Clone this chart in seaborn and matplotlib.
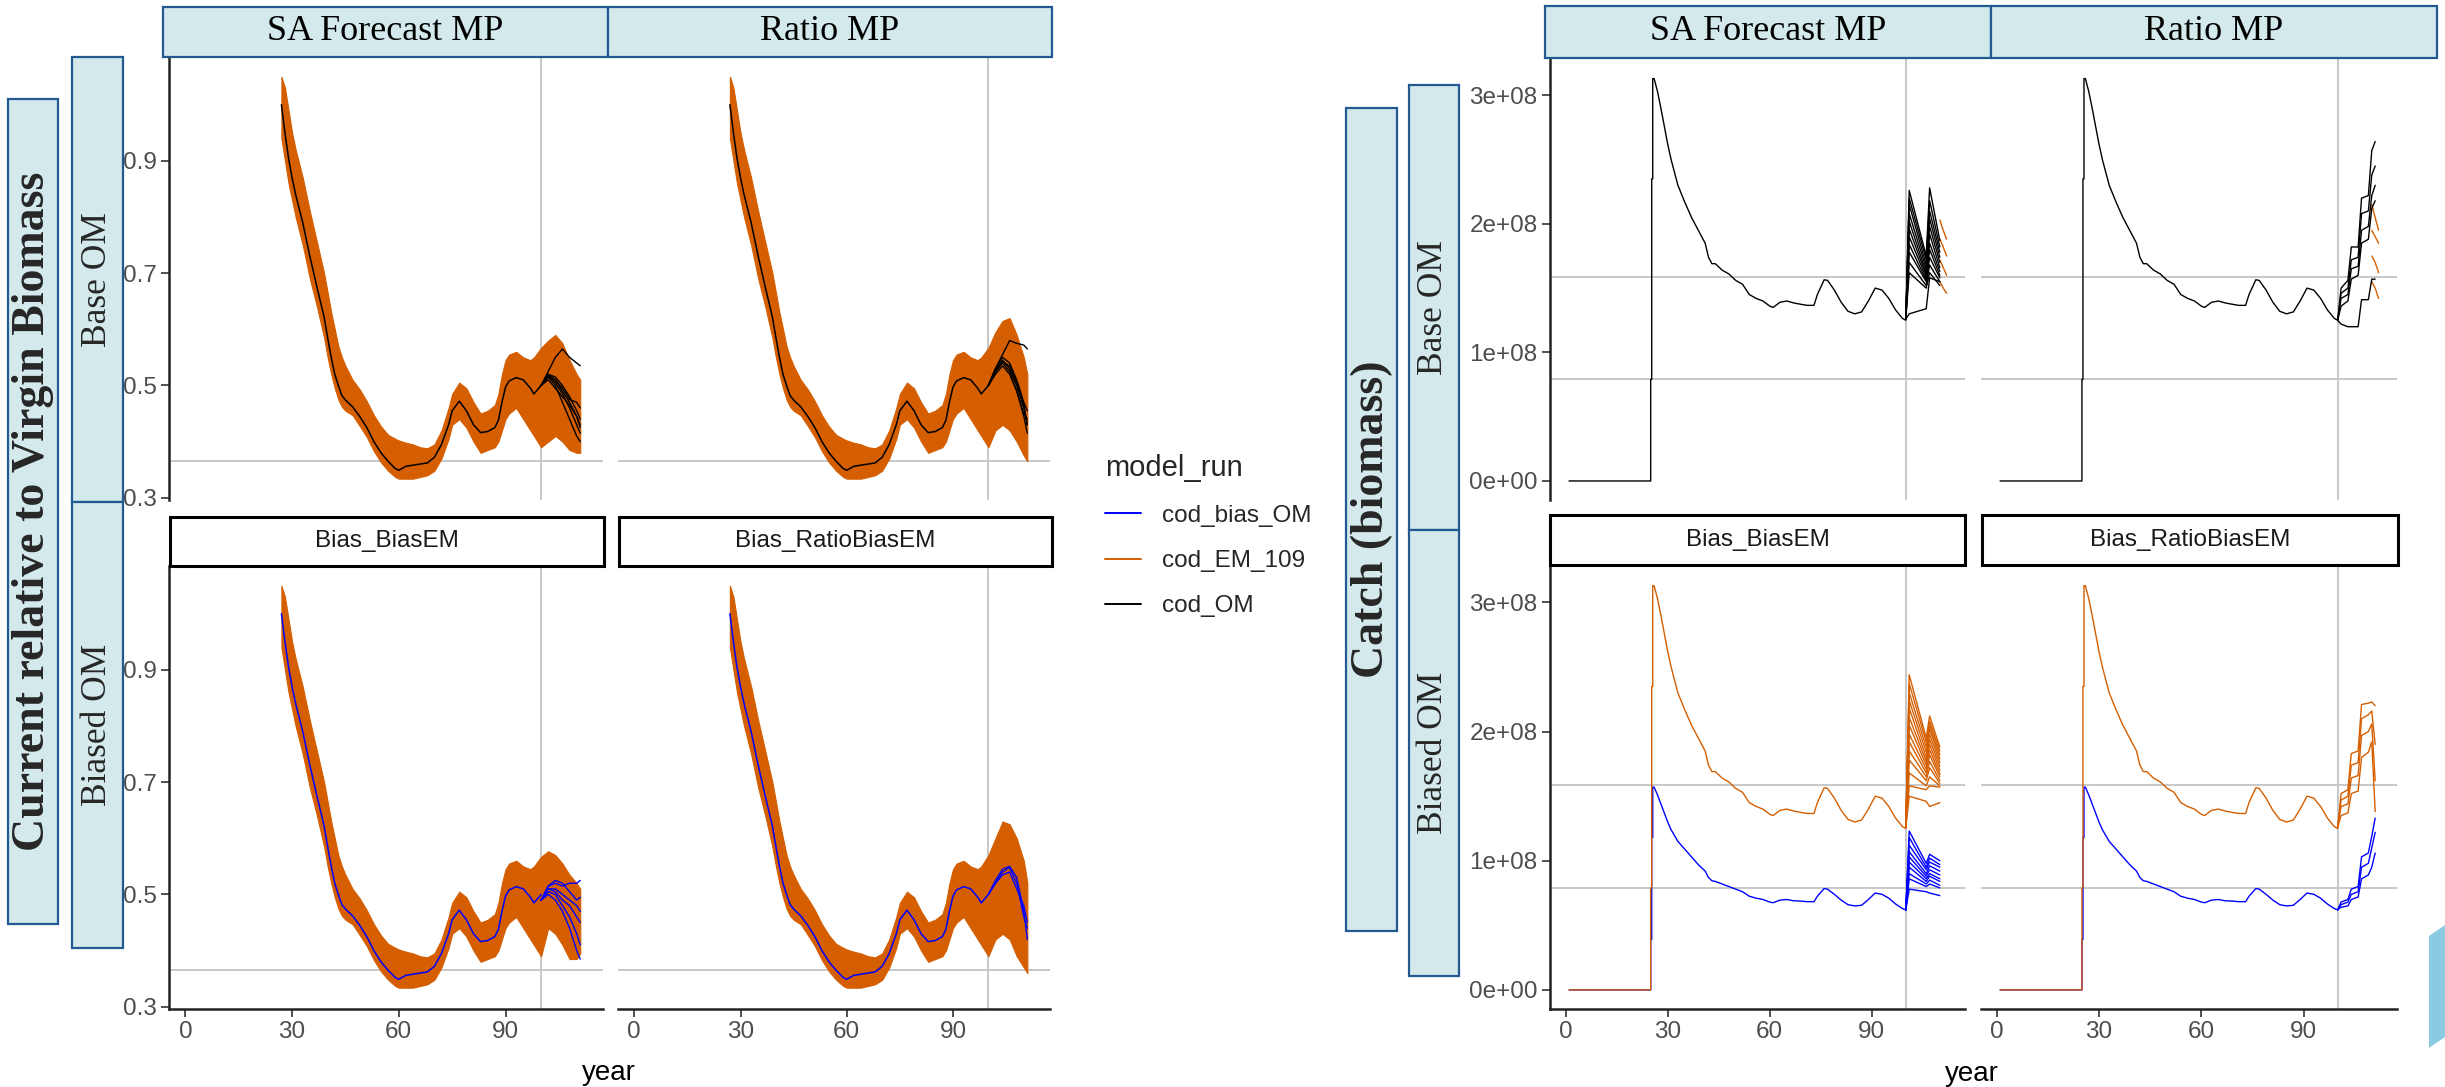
import pandas as pd
import matplotlib
matplotlib.use("Agg")
import matplotlib.pyplot as plt
import seaborn as sns
from matplotlib.patches import Rectangle, Polygon
from matplotlib.lines import Line2D

# ---------------- data ----------------
# biomass (current / virgin), hindcast years
bio_years = [27, 28, 29, 30, 31, 33, 35, 37, 39, 40, 41, 42, 43, 44, 45, 47, 49, 51, 53, 55,
             57, 59, 60, 62, 64, 66, 68, 70, 72, 74, 75, 77, 79, 81, 83, 85, 87, 88, 89, 90,
             91, 93, 95, 97, 98, 100]
bio_om = [1.00, 0.95, 0.905, 0.87, 0.84, 0.79, 0.73, 0.675, 0.622, 0.585, 0.55, 0.52, 0.50, 0.482,
          0.474, 0.462, 0.445, 0.425, 0.40, 0.38, 0.365, 0.352, 0.349, 0.356, 0.358, 0.36, 0.362,
          0.372, 0.395, 0.43, 0.455, 0.472, 0.455, 0.43, 0.416, 0.418, 0.425, 0.438, 0.47, 0.497,
          0.508, 0.514, 0.51, 0.495, 0.485, 0.50]
bio_em_hi = [1.05, 1.03, 0.99, 0.95, 0.92, 0.87, 0.81, 0.755, 0.70, 0.665, 0.63, 0.60, 0.57, 0.55,
             0.535, 0.51, 0.493, 0.472, 0.447, 0.427, 0.412, 0.405, 0.402, 0.398, 0.395, 0.39,
             0.388, 0.395, 0.42, 0.46, 0.485, 0.505, 0.495, 0.47, 0.45, 0.455, 0.465, 0.485, 0.52,
             0.545, 0.555, 0.56, 0.55, 0.545, 0.55, 0.567]
bio_em_lo = [0.94, 0.90, 0.86, 0.83, 0.80, 0.75, 0.69, 0.64, 0.585, 0.55, 0.52, 0.495, 0.475, 0.462,
             0.455, 0.447, 0.428, 0.408, 0.383, 0.363, 0.348, 0.337, 0.334, 0.334, 0.334, 0.337,
             0.34, 0.348, 0.37, 0.405, 0.43, 0.44, 0.425, 0.40, 0.38, 0.385, 0.39, 0.40, 0.42,
             0.44, 0.45, 0.46, 0.44, 0.42, 0.41, 0.39]

# biomass projections
proj_years = [100, 102, 104, 106, 108, 110, 111]
sa_base_band_hi = [0.567, 0.58, 0.59, 0.575, 0.545, 0.52, 0.51]
sa_base_band_lo = [0.39, 0.40, 0.41, 0.40, 0.385, 0.38, 0.38]
ratio_base_band_hi = [0.565, 0.595, 0.615, 0.62, 0.59, 0.55, 0.52]
ratio_base_band_lo = [0.39, 0.42, 0.43, 0.42, 0.40, 0.375, 0.365]
sa_bias_band_hi = [0.565, 0.577, 0.57, 0.555, 0.535, 0.52, 0.51]
sa_bias_band_lo = [0.42, 0.44, 0.43, 0.41, 0.385, 0.385, 0.395]
ratio_bias_band_hi = [0.57, 0.60, 0.63, 0.625, 0.60, 0.56, 0.52]
ratio_bias_band_lo = [0.40, 0.42, 0.43, 0.42, 0.39, 0.37, 0.36]

sa_base_bio_om = [
    [0.50, 0.525, 0.55, 0.565, 0.55, 0.54, 0.535],
    [0.50, 0.52, 0.515, 0.50, 0.48, 0.455, 0.44],
    [0.50, 0.518, 0.505, 0.485, 0.46, 0.43, 0.415],
    [0.50, 0.515, 0.50, 0.47, 0.44, 0.41, 0.40],
    [0.50, 0.52, 0.51, 0.495, 0.475, 0.47, 0.46],
    [0.50, 0.51, 0.495, 0.48, 0.465, 0.445, 0.43],
    [0.50, 0.515, 0.51, 0.49, 0.47, 0.445, 0.425],
]
ratio_base_bio_om = [
    [0.50, 0.53, 0.555, 0.58, 0.575, 0.572, 0.565],
    [0.50, 0.525, 0.545, 0.53, 0.50, 0.46, 0.43],
    [0.50, 0.525, 0.54, 0.525, 0.49, 0.445, 0.415],
    [0.50, 0.53, 0.55, 0.54, 0.51, 0.47, 0.455],
    [0.50, 0.52, 0.535, 0.52, 0.49, 0.45, 0.44],
    [0.50, 0.525, 0.542, 0.535, 0.505, 0.465, 0.43],
]
sa_bias_bio_om = [
    [0.49, 0.515, 0.52, 0.515, 0.52, 0.52, 0.525],
    [0.49, 0.51, 0.505, 0.49, 0.48, 0.46, 0.45],
    [0.49, 0.505, 0.50, 0.48, 0.46, 0.43, 0.41],
    [0.49, 0.51, 0.51, 0.50, 0.49, 0.48, 0.47],
    [0.49, 0.50, 0.49, 0.47, 0.44, 0.40, 0.385],
    [0.49, 0.515, 0.525, 0.52, 0.505, 0.49, 0.495],
]
ratio_bias_bio_om = [
    [0.50, 0.525, 0.545, 0.55, 0.53, 0.47, 0.42],
    [0.50, 0.52, 0.54, 0.548, 0.52, 0.46, 0.44],
    [0.50, 0.52, 0.535, 0.54, 0.51, 0.48, 0.45],
]

# catch (units of 1e8), hindcast
catch_years = [1, 25, 25, 25.3, 25.3, 25.6, 25.6, 26, 27, 28, 29, 30, 31, 33, 35, 37, 39, 41, 42,
               43, 44, 46, 48, 50, 52, 54, 56, 58, 60, 61, 63, 65, 67, 69, 71, 73, 74, 76, 77, 79,
               81, 83, 85, 87, 89, 91, 93, 95, 97, 99, 100]
catch_hist = [0, 0, 0.79, 0.79, 2.35, 2.35, 3.13, 3.13, 3.03, 2.90, 2.76, 2.62, 2.50, 2.30, 2.17,
              2.05, 1.95, 1.85, 1.74, 1.69, 1.69, 1.64, 1.61, 1.56, 1.53, 1.45, 1.42, 1.40, 1.36,
              1.35, 1.39, 1.40, 1.385, 1.375, 1.366, 1.366, 1.45, 1.565, 1.56, 1.485, 1.39, 1.32,
              1.30, 1.315, 1.40, 1.50, 1.485, 1.42, 1.33, 1.265, 1.25]
catch_bias_hist = [0, 0, 0.39, 0.39, 1.18, 1.18, 1.57, 1.57, 1.51, 1.44, 1.37, 1.30, 1.24, 1.15,
                   1.09, 1.03, 0.97, 0.92, 0.87, 0.845, 0.84, 0.82, 0.80, 0.78, 0.76, 0.725, 0.71,
                   0.70, 0.68, 0.675, 0.695, 0.70, 0.69, 0.688, 0.683, 0.683, 0.725, 0.785, 0.78,
                   0.74, 0.695, 0.66, 0.65, 0.655, 0.70, 0.75, 0.74, 0.71, 0.665, 0.63, 0.62]

# catch projections
sa_catch_years = [100, 101, 106, 107, 110]
stair_years = [100, 101, 103, 104, 106, 107, 109, 110, 111]
em_end_years = [110, 111, 112]
sa_base_catch_om = [
    [1.26, 2.26, 1.75, 2.28, 1.87],
    [1.26, 2.20, 1.72, 2.18, 1.82],
    [1.26, 2.15, 1.68, 2.10, 1.78],
    [1.26, 2.08, 1.65, 2.04, 1.74],
    [1.26, 2.02, 1.62, 1.98, 1.70],
    [1.26, 1.96, 1.60, 1.92, 1.66],
    [1.26, 1.90, 1.58, 1.85, 1.63],
    [1.26, 1.84, 1.56, 1.80, 1.60],
    [1.26, 1.78, 1.55, 1.74, 1.58],
    [1.26, 1.70, 1.52, 1.68, 1.55],
    [1.26, 1.62, 1.50, 1.62, 1.52],
    [1.26, 1.30, 1.34, 1.58, 1.55],
]
sa_base_catch_em = [[2.03, 1.95, 1.88], [1.88, 1.82, 1.75], [1.72, 1.66, 1.60], [1.55, 1.50, 1.46]]
ratio_base_catch_om = [
    [1.25, 1.50, 1.56, 1.82, 1.82, 2.20, 2.22, 2.57, 2.64],
    [1.25, 1.46, 1.50, 1.72, 1.74, 2.08, 2.10, 2.38, 2.45],
    [1.25, 1.42, 1.45, 1.65, 1.67, 1.95, 1.98, 2.22, 2.30],
    [1.25, 1.36, 1.40, 1.57, 1.60, 1.85, 1.88, 2.12, 2.18],
    [1.25, 1.22, 1.20, 1.20, 1.20, 1.41, 1.41, 1.57, 1.57],
]
ratio_base_catch_em = [[2.15, 2.05, 1.95], [1.95, 1.90, 1.85], [1.75, 1.70, 1.62], [1.55, 1.50, 1.42]]
sa_bias_catch_em = [
    [1.26, 2.44, 1.95, 2.12, 1.88],
    [1.26, 2.37, 1.92, 2.08, 1.85],
    [1.26, 2.30, 1.88, 2.05, 1.82],
    [1.26, 2.24, 1.84, 2.02, 1.79],
    [1.26, 2.18, 1.80, 1.98, 1.76],
    [1.26, 2.11, 1.77, 1.94, 1.73],
    [1.26, 2.05, 1.74, 1.90, 1.70],
    [1.26, 1.98, 1.71, 1.86, 1.67],
    [1.26, 1.92, 1.68, 1.82, 1.65],
    [1.26, 1.85, 1.65, 1.77, 1.62],
    [1.26, 1.78, 1.62, 1.72, 1.60],
    [1.26, 1.68, 1.58, 1.65, 1.58],
    [1.26, 1.58, 1.55, 1.58, 1.57],
    [1.26, 1.50, 1.46, 1.42, 1.45],
]
sa_bias_catch_om = [
    [0.62, 1.23, 0.98, 1.05, 1.00],
    [0.62, 1.18, 0.95, 1.02, 0.97],
    [0.62, 1.12, 0.93, 0.99, 0.95],
    [0.62, 1.07, 0.90, 0.96, 0.92],
    [0.62, 1.03, 0.88, 0.93, 0.89],
    [0.62, 0.99, 0.86, 0.90, 0.86],
    [0.62, 0.95, 0.84, 0.88, 0.84],
    [0.62, 0.90, 0.82, 0.85, 0.81],
    [0.62, 0.86, 0.80, 0.82, 0.79],
    [0.62, 0.78, 0.76, 0.75, 0.73],
]
ratio_bias_catch_em = [
    [1.26, 1.52, 1.55, 1.83, 1.85, 2.21, 2.22, 2.23, 2.20],
    [1.26, 1.47, 1.50, 1.74, 1.76, 2.10, 2.13, 2.16, 1.90],
    [1.26, 1.42, 1.44, 1.64, 1.66, 1.97, 2.00, 2.06, 1.62],
    [1.26, 1.35, 1.37, 1.52, 1.54, 1.80, 1.84, 1.92, 1.38],
]
ratio_bias_catch_om = [
    [0.62, 0.68, 0.70, 0.78, 0.80, 1.03, 1.06, 1.19, 1.33],
    [0.62, 0.66, 0.68, 0.74, 0.76, 0.95, 0.98, 1.10, 1.22],
    [0.62, 0.64, 0.65, 0.70, 0.72, 0.86, 0.89, 0.95, 1.06],
]

year_ticks = [0, 30, 60, 90]
bio_ticks = [0.3, 0.5, 0.7, 0.9]
catch_ticks = [0, 1, 2, 3]
catch_tick_labels = ["0e+00", "1e+08", "2e+08", "3e+08"]
bio_ref = [0.365]
catch_ref = [1.585, 0.79]
col_labels = ["SA Forecast MP", "Ratio MP"]
row_labels = ["Base OM", "Biased OM"]
strip_labels = ["Bias_BiasEM", "Bias_RatioBiasEM"]
legend_labels = ["cod_bias_OM", "cod_EM_109", "cod_OM"]

BLUE, ORANGE, BLACK = "#0000FF", "#D55E00", "#000000"
legend_colors = [BLUE, ORANGE, BLACK]
STRIP_FILL, STRIP_EDGE = "#D3E9EC", "#245A92"

# ---------------- figure ----------------
sns.set_style("white")
plt.rcParams["font.family"] = ["Liberation Sans", "DejaVu Sans"]

W, H = 2445, 1087
fig = plt.figure(figsize=(W / 100, H / 100), dpi=100)


def add_axes(x0, y0, x1, y1):
    return fig.add_axes([x0 / W, 1 - y1 / H, (x1 - x0) / W, (y1 - y0) / H])


def box(x0, y0, x1, y1, fc, ec, lw):
    fig.patches.append(Rectangle((x0 / W, 1 - y1 / H), (x1 - x0) / W, (y1 - y0) / H,
                                 transform=fig.transFigure, facecolor=fc, edgecolor=ec,
                                 linewidth=lw, zorder=3))


def box_text(x0, y0, x1, y1, text, **kw):
    fig.text((x0 + x1) / 2 / W, 1 - (y0 + y1) / 2 / H, text, ha="center", va="center",
             zorder=4, **kw)


def draw_lines(ax, years, lines, color, lw=1.0, z=3):
    rows = [(y, v, i) for i, line in enumerate(lines) for y, v in zip(years, line)]
    df = pd.DataFrame(rows, columns=["year", "value", "run"])
    sns.lineplot(data=df, x="year", y="value", units="run", estimator=None, sort=False,
                 color=color, linewidth=lw, ax=ax, legend=False, zorder=z)


def draw_band(ax, years, hi, lo, color):
    df = pd.DataFrame({"year": list(years) * 2, "value": list(hi) + list(lo)})
    sns.lineplot(data=df, x="year", y="value", errorbar=("pi", 100), color=color, linewidth=0,
                 err_kws={"alpha": 1, "linewidth": 0.8, "edgecolor": color, "zorder": 2},
                 ax=ax, legend=False)


def style(ax, kind, left, bottom):
    ax.set_xlim(-4.6, 117.4)
    ax.set_xticks(year_ticks)
    if kind == "bio":
        ax.set_ylim(0.296, 1.085)
        ax.set_yticks(bio_ticks)
        refs = bio_ref
    else:
        ax.set_ylim(-0.148, 3.29)
        ax.set_yticks(catch_ticks)
        ax.set_yticklabels(catch_tick_labels)
        refs = catch_ref
    for r in refs:
        ax.axhline(r, color="#C4C4C4", linewidth=1.3, zorder=1)
    ax.axvline(100, color="#C4C4C4", linewidth=1.3, zorder=1)
    ax.set_xlabel("")
    ax.set_ylabel("")
    for s in ["top", "right", "left", "bottom"]:
        ax.spines[s].set_visible(False)
    ax.spines["left"].set_visible(left)
    ax.spines["bottom"].set_visible(bottom)
    for s in ["left", "bottom"]:
        ax.spines[s].set_linewidth(1.8)
        ax.spines[s].set_color("#222222")
    ax.tick_params(axis="both", labelsize=17.5, labelcolor="#4D4D4D", color="#333333",
                   length=6, width=1.2, pad=3)
    ax.tick_params(axis="y", left=left, labelleft=left)
    ax.tick_params(axis="x", bottom=bottom, labelbottom=bottom)
    ax.set_facecolor("none")


# ---- left chart: biomass ----
band_years = bio_years + proj_years
bio_panels = [
    ((169, 57, 603, 500), sa_base_band_hi, sa_base_band_lo, sa_base_bio_om, BLACK, True, False),
    ((618, 57, 1050, 500), ratio_base_band_hi, ratio_base_band_lo, ratio_base_bio_om, BLACK, False, False),
    ((169, 566, 603, 1009), sa_bias_band_hi, sa_bias_band_lo, sa_bias_bio_om, BLUE, True, True),
    ((618, 566, 1050, 1009), ratio_bias_band_hi, ratio_bias_band_lo, ratio_bias_bio_om, BLUE, False, True),
]
for pos, hi, lo, om_proj, om_color, left, bottom in bio_panels:
    ax = add_axes(*pos)
    draw_band(ax, band_years, bio_em_hi + hi, bio_em_lo + lo, ORANGE)
    draw_lines(ax, bio_years, [bio_om], om_color, lw=1.1, z=4)
    draw_lines(ax, proj_years, om_proj, om_color, lw=1.0, z=4)
    style(ax, "bio", left, bottom)

# ---- right chart: catch ----
ax = add_axes(1550, 58, 1965, 500)
draw_lines(ax, catch_years, [catch_hist], BLACK, z=4)
draw_lines(ax, em_end_years, sa_base_catch_em, ORANGE, z=3)
draw_lines(ax, sa_catch_years, sa_base_catch_om, BLACK, z=4)
style(ax, "catch", True, False)

ax = add_axes(1981, 58, 2397, 500)
draw_lines(ax, catch_years, [catch_hist], BLACK, z=4)
draw_lines(ax, em_end_years, ratio_base_catch_em, ORANGE, z=3)
draw_lines(ax, stair_years, ratio_base_catch_om, BLACK, z=4)
style(ax, "catch", False, False)

ax = add_axes(1550, 565, 1965, 1009)
draw_lines(ax, catch_years, [catch_bias_hist], BLUE, z=3)
draw_lines(ax, sa_catch_years, sa_bias_catch_om, BLUE, z=3)
draw_lines(ax, catch_years, [catch_hist], ORANGE, z=4)
draw_lines(ax, sa_catch_years, sa_bias_catch_em, ORANGE, z=4)
style(ax, "catch", True, True)

ax = add_axes(1981, 565, 2397, 1009)
draw_lines(ax, catch_years, [catch_bias_hist], BLUE, z=3)
draw_lines(ax, stair_years, ratio_bias_catch_om, BLUE, z=3)
draw_lines(ax, catch_years, [catch_hist], ORANGE, z=4)
draw_lines(ax, stair_years, ratio_bias_catch_em, ORANGE, z=4)
style(ax, "catch", False, True)

# ---- strips and boxes ----
serif = "Liberation Serif"
for (x0, x1), lab in zip([(163, 608), (608, 1052)], col_labels):
    box(x0, 7, x1, 57, STRIP_FILL, STRIP_EDGE, 1.6)
    box_text(x0, 7, x1, 57, lab, fontsize=26, family=serif, color="black")
for (x0, x1), lab in zip([(1545, 1991), (1991, 2437)], col_labels):
    box(x0, 6, x1, 58, STRIP_FILL, STRIP_EDGE, 1.6)
    box_text(x0, 6, x1, 58, lab, fontsize=26, family=serif, color="black")

for (y0, y1), lab in zip([(57, 502), (502, 948)], row_labels):
    box(72, y0, 123, y1, STRIP_FILL, STRIP_EDGE, 1.6)
    box_text(72, y0, 123, y1, lab, fontsize=25.5, family=serif, rotation=90)
for (y0, y1), lab in zip([(85, 530), (530, 976)], row_labels):
    box(1409, y0, 1459, y1, STRIP_FILL, STRIP_EDGE, 1.6)
    box_text(1409, y0, 1459, y1, lab, fontsize=25.5, family=serif, rotation=90)

box(8, 99, 58, 924, STRIP_FILL, STRIP_EDGE, 1.6)
box_text(8, 99, 58, 924, "Current relative to Virgin Biomass", fontsize=33, family=serif,
         fontweight="bold", rotation=90)
box(1346, 108, 1397, 931, STRIP_FILL, STRIP_EDGE, 1.6)
box_text(1346, 108, 1397, 931, "Catch (biomass)", fontsize=33, family=serif,
         fontweight="bold", rotation=90)

for (x0, x1), lab in zip([(170, 604), (619, 1052)], strip_labels):
    box(x0, 517, x1, 566, "white", "black", 2.2)
    box_text(x0, 517, x1, 566, lab, fontsize=17.5, color="#1A1A1A")
for (x0, x1), lab in zip([(1550, 1965), (1982, 2398)], strip_labels):
    box(x0, 515, x1, 565, "white", "black", 2.2)
    box_text(x0, 515, x1, 565, lab, fontsize=17.5, color="#1A1A1A")

# axis titles
fig.text(609 / W, 1 - 1073 / H, "year", ha="center", va="center", fontsize=20, color="black")
fig.text(1972 / W, 1 - 1074 / H, "year", ha="center", va="center", fontsize=20, color="black")

# legend
handles = [Line2D([], [], color=c, linewidth=1.4) for c in legend_colors]
fig.legend(handles, legend_labels, title="model_run", loc="upper left",
           bbox_to_anchor=(1083 / W, 1 - 432 / H), frameon=False, fontsize=17.5,
           title_fontsize=21, handlelength=1.5, handletextpad=0.85, labelspacing=0.95,
           alignment="left")

# slide decoration at bottom-right corner
fig.patches.append(Polygon([[2429 / W, 1 - 936 / H], [2445 / W, 1 - 925 / H],
                            [2445 / W, 1 - 1037 / H], [2429 / W, 1 - 1048 / H]],
                           closed=True, transform=fig.transFigure, facecolor="#8ACBE2",
                           edgecolor="none"))

fig.savefig("out.png", dpi=100)
